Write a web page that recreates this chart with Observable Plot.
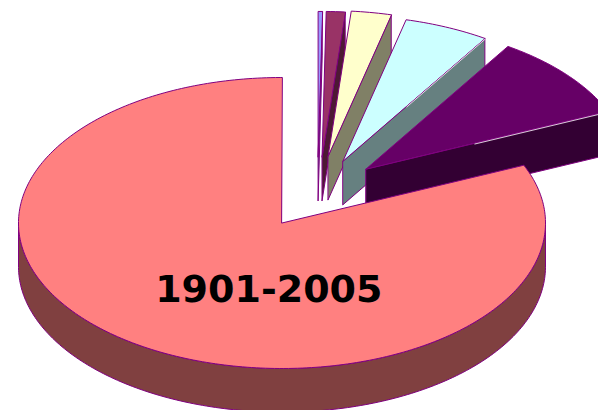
<!DOCTYPE html>
<html>
<head>
<meta charset="utf-8">
<script src="https://cdn.jsdelivr.net/npm/d3@7"></script>
<script src="https://cdn.jsdelivr.net/npm/@observablehq/plot@0.6"></script>
<style>
html,body{margin:0;padding:0;background:#fff;overflow:hidden}
svg{display:block;overflow:hidden}
</style>
</head>
<body>
<div id="chart"></div>
<script>
// Share of each slice in percent, clockwise from 12 o'clock
const sliceNames = ["a", "b", "c", "d", "e", "1901-2005"];
const sliceValues = [0.25, 1.15, 2.45, 5.2, 9.45, 81.5];
const topColors = ["#9999ff", "#993366", "#ffffcc", "#ccffff", "#660066", "#ff8080"];
const sideColors = ["#4d4d80", "#4d1933", "#808066", "#668080", "#330033", "#804040"];
const outline = "#800080";

// exploded displacement of each slice, in pie radii
const shiftX = [0.137, 0.152, 0.175, 0.2315, 0.319, 0];
const shiftY = [0.454, 0.454, 0.46, 0.426, 0.371, 0];
const depth = 0.3;

const arcs = d3.pie().sort(null).value(d => d)(sliceValues);
const pt = (a, r, dx, dy, z = 0) => ({x: dx + r * Math.sin(a), y: dy + r * Math.cos(a) - z});
const rad = Math.PI / 180;

const marks = [];
arcs.forEach((arc, i) => {
  const dx = shiftX[i], dy = shiftY[i];
  const a0 = arc.startAngle, a1 = arc.endAngle;
  const angles = d3.range(a0, a1, rad).concat(a1);
  const poly = (pts, fill) => marks.push(Plot.line(pts, {
    x: "x", y: "y", fill, stroke: outline, strokeWidth: 1,
    curve: "linear-closed", strokeLinejoin: "round"
  }));
  // cut face at the clockwise end, when it faces the viewer
  if (a1 < Math.PI / 2) {
    poly([pt(a1, 0, dx, dy), pt(a1, 1, dx, dy), pt(a1, 1, dx, dy, depth), pt(a1, 0, dx, dy, depth)], sideColors[i]);
  }
  // rim, front half only
  const rim = angles.filter(a => a >= Math.PI / 2 && a <= 1.5 * Math.PI);
  if (rim.length) {
    poly([...rim.map(a => pt(a, 1, dx, dy)), ...rim.slice().reverse().map(a => pt(a, 1, dx, dy, depth))], sideColors[i]);
  }
  // top
  poly([pt(a0, 0, dx, dy), ...angles.map(a => pt(a, 1, dx, dy))], topColors[i]);
  // thin highlight along the outer part of the cut edge of the two widest exploded slices
  if (i === 3 || i === 4) {
    marks.push(Plot.line([pt(a1, 0.45, dx, dy), pt(a1, 1, dx, dy)], {
      x: "x", y: "y", stroke: "#fff", strokeWidth: 0.8, dy: 1
    }));
  }
});

marks.push(Plot.text([sliceNames[5]], {
  x: () => -0.05, y: () => -0.457, text: d => d,
  fontFamily: "DejaVu Sans", fontWeight: "bold", fontSize: 38, fill: "#000"
}));

const chart = Plot.plot({
  width: 598, height: 410,
  marginTop: 0, marginRight: 0, marginBottom: 0, marginLeft: 0,
  x: {domain: [-1, 1], range: [18, 545], axis: null},
  y: {domain: [1, -1], range: [77, 368], axis: null},
  style: {background: "#fff"},
  marks
});
document.getElementById("chart").appendChild(chart);
</script>
</body>
</html>
